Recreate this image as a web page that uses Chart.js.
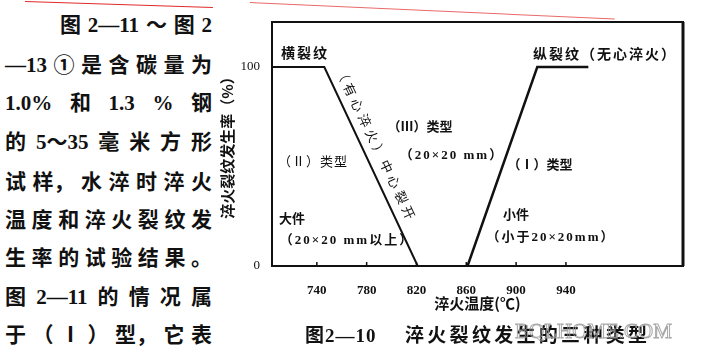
<!DOCTYPE html>
<html><head><meta charset="utf-8">
<script src="https://cdn.jsdelivr.net/npm/chart.js@4"></script>
<style>
html,body{margin:0;padding:0;background:#fff;width:705px;height:357px;overflow:hidden;position:relative;}
.t{position:absolute;white-space:nowrap;color:#111;}
.para{font-family:"Liberation Serif","Noto Sans CJK SC",serif;font-size:21px;font-weight:700;line-height:22px;height:22px;display:flex;justify-content:space-between;}
.para span{display:block;}
.ann{font-family:"Liberation Serif","Noto Sans CJK SC",serif;font-size:13px;font-weight:700;transform:translate(-50%,-50%);}
#c{position:absolute;left:215px;top:0;}
.cap{font-family:"Liberation Serif","Noto Sans CJK SC",serif;font-size:19px;font-weight:700;transform:translateY(-50%);}
.red{position:absolute;height:1px;background:#e02a2a;transform-origin:0 0;}
</style></head><body>
<div class="red" style="left:25px;top:1px;width:188px;transform:rotate(1.8deg);"></div>
<div class="red" style="left:250px;top:2px;width:365px;transform:rotate(2.6deg);opacity:.7"></div>

<div class="t para" style="left:60px;top:14px;width:152px;"><span>图</span><span>2—11</span><span>～</span><span>图</span><span>2</span></div>
<div class="t para" style="left:5px;top:54px;width:207px;"><span>—13</span><span>①</span><span>是</span><span>含</span><span>碳</span><span>量</span><span>为</span></div>
<div class="t para" style="left:5px;top:92px;width:207px;"><span>1.0%</span><span>和</span><span>1.3</span><span>%</span><span>钢</span></div>
<div class="t para" style="left:5px;top:131px;width:207px;"><span>的</span><span>5～35</span><span>毫</span><span>米</span><span>方</span><span>形</span></div>
<div class="t para" style="left:5px;top:171px;width:207px;"><span>试</span><span>样，</span><span>水</span><span>淬</span><span>时</span><span>淬</span><span>火</span></div>
<div class="t para" style="left:5px;top:209px;width:207px;"><span>温</span><span>度</span><span>和</span><span>淬</span><span>火</span><span>裂</span><span>纹</span><span>发</span></div>
<div class="t para" style="left:5px;top:247px;width:207px;"><span>生</span><span>率</span><span>的</span><span>试</span><span>验</span><span>结</span><span>果</span><span>。</span></div>
<div class="t para" style="left:5px;top:286px;width:207px;"><span>图</span><span>2—11</span><span>的</span><span>情</span><span>况</span><span>属</span></div>
<div class="t para" style="left:5px;top:324px;width:207px;"><span>于</span><span>（</span><span>Ⅰ</span><span>）</span><span>型，</span><span>它</span><span>表</span></div>

<canvas id="c" width="490" height="357"></canvas>

<div class="t ann" style="left:305px;top:52px;font-size:14px;letter-spacing:2px;">横裂纹</div>
<div class="t ann" style="left:605px;top:53px;font-size:14px;letter-spacing:2px;">纵裂纹（无心淬火）</div>
<div class="t ann" style="left:313px;top:160px;letter-spacing:1px;font-weight:400;">（Ⅱ）类型</div>
<div class="t ann" style="left:292px;top:217px;">大件</div>
<div class="t ann" style="left:347px;top:238px;letter-spacing:2px;">（20×20 mm以上）</div>
<div class="t ann" style="left:420px;top:125px;">（Ⅲ）类型</div>
<div class="t ann" style="left:452px;top:153px;letter-spacing:2px;">（20×20 mm）</div>
<div class="t ann" style="left:540px;top:163px;">（Ⅰ）类型</div>
<div class="t ann" style="left:516px;top:213px;">小件</div>
<div class="t ann" style="left:551px;top:235px;letter-spacing:2px;">（小于20×20mm）</div>
<div class="t ann" style="left:377px;top:145px;transform:translate(-50%,-50%) rotate(64.5deg);letter-spacing:4px;font-weight:400;">（有心淬火）中心裂开</div>

<div class="t cap" style="left:305px;top:333px;letter-spacing:1px;">图2—10</div>
<div class="t cap" style="left:405px;top:333px;letter-spacing:3.3px;">淬火裂纹发生的三种类型</div>
<div class="t" style="left:515px;top:319px;font-family:'Liberation Serif';font-size:21px;color:transparent;-webkit-text-stroke:1px #999;letter-spacing:0px;opacity:.85;">BQLHOME.COM</div>

<script>
const xTicks = [740, 780, 820, 860, 900, 940];
const yTicks = [0, 100];
const leftTemps = [704, 746, 821];
const leftRates = [100, 100, 0];
const rightTemps = [861, 917, 958];
const rightRates = [0, 100, 100];

const toPts = (xs, ys) => xs.map((x, i) => ({x: x, y: ys[i]}));

const framePlugin = {
  id: 'frame',
  afterDatasetsDraw(chart) {
    const {ctx, chartArea: a, scales} = chart;
    ctx.save();
    ctx.strokeStyle = '#111';
    ctx.lineWidth = 2;
    ctx.strokeRect(a.left, a.top, a.right - a.left, a.bottom - a.top);
    ctx.lineWidth = 3;
    ctx.beginPath();
    ctx.moveTo(a.right, a.top); ctx.lineTo(a.right, a.bottom);
    ctx.stroke();
    ctx.lineWidth = 1.5;
    ctx.beginPath();
    xTicks.forEach(v => {
      const px = scales.x.getPixelForValue(v);
      ctx.moveTo(px, a.bottom); ctx.lineTo(px, a.bottom - 4);
    });
    ctx.stroke();
    ctx.restore();
  }
};

new Chart(document.getElementById('c'), {
  type: 'line',
  data: {
    datasets: [
      {data: toPts(leftTemps, leftRates), borderColor: '#111', borderWidth: 2, pointRadius: 0, tension: 0, fill: false},
      {data: toPts(rightTemps, rightRates), borderColor: '#111', borderWidth: 2.5, pointRadius: 0, tension: 0, fill: false}
    ]
  },
  options: {
    responsive: false,
    animation: false,
    devicePixelRatio: 1,
    layout: {padding: {left: 0, top: 22, right: 22, bottom: 45}},
    plugins: {legend: {display: false}, tooltip: {enabled: false}},
    scales: {
      x: {
        type: 'linear', min: 704, max: 1034,
        afterBuildTicks: s => { s.ticks = xTicks.map(v => ({value: v})); },
        afterFit: s => { s.height = 46; },
        grid: {display: false}, border: {display: false},
        ticks: {padding: 9, color: '#111', font: {family: 'Liberation Serif', size: 13, weight: 'bold'}},
        title: {display: true, text: '淬火温度(℃)', color: '#111', padding: 0,
                font: {family: 'Noto Sans CJK SC', size: 15, weight: 'bold'}}
      },
      y: {
        type: 'linear', min: 0, max: 122.6,
        afterBuildTicks: s => { s.ticks = yTicks.map(v => ({value: v})); },
        afterFit: s => { s.width = 57; },
        grid: {display: false}, border: {display: false},
        ticks: {padding: 4, color: '#111', font: {family: 'Liberation Serif', size: 13}},
        title: {display: true, text: '淬火裂纹发生率（%）', color: '#111', padding: {top: 3, bottom: 0},
                font: {family: 'Noto Sans CJK SC', size: 15, weight: 'bold'}}
      }
    }
  },
  plugins: [framePlugin]
});
</script>
</body></html>
